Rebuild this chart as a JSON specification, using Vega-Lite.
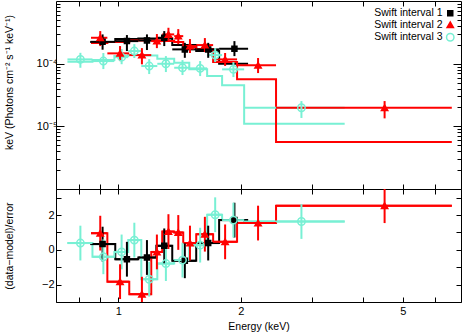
{
  "$schema": "https://vega.github.io/schema/vega-lite/v6.json",
  "background": "white",
  "padding": {"left": 4, "top": 0, "right": 1, "bottom": 2},
  "spacing": 0,
  "bounds": "flush",
  "config": {
    "font": "Liberation Sans",
    "view": {"stroke": null},
    "axis": {
      "grid": false,
      "labelFont": "Liberation Sans",
      "labelFontSize": 11,
      "labelColor": "black",
      "titleFont": "Liberation Sans",
      "titleFontSize": 10.5,
      "titleFontWeight": "normal",
      "titleColor": "black",
      "domainColor": "black",
      "domainWidth": 1,
      "tickColor": "black",
      "tickWidth": 1
    },
    "legend": {
      "labelFont": "Liberation Sans",
      "labelFontSize": 10.5,
      "labelColor": "black"
    }
  },
  "resolve": {
    "scale": {"stroke": "independent", "fill": "independent", "shape": "independent", "size": "independent"},
    "legend": {"stroke": "independent", "fill": "independent", "shape": "independent", "size": "independent"}
  },
  "datasets": {
    "steps": [
      {"s": "Swift interval 1", "E": 0.854, "m": 2.21e-4, "r": 0.33},
      {"s": "Swift interval 1", "E": 0.983, "m": 2.47e-4, "r": -0.54},
      {"s": "Swift interval 1", "E": 1.120, "m": 2.51e-4, "r": -0.44},
      {"s": "Swift interval 1", "E": 1.240, "m": 2.51e-4, "r": 0.23},
      {"s": "Swift interval 1", "E": 1.357, "m": 1.98e-4, "r": -0.63},
      {"s": "Swift interval 1", "E": 1.554, "m": 1.60e-4, "r": 0.39},
      {"s": "Swift interval 1", "E": 1.769, "m": 1.00e-4, "r": 1.71},
      {"s": "Swift interval 1", "E": 2.084, "m": 1.00e-4, "r": 1.71},
      {"s": "Swift interval 3", "E": 0.750, "m": 1.07e-4, "r": 0.39},
      {"s": "Swift interval 3", "E": 0.864, "m": 1.14e-4, "r": -0.40},
      {"s": "Swift interval 3", "E": 0.978, "m": 1.32e-4, "r": -0.12},
      {"s": "Swift interval 3", "E": 1.058, "m": 1.37e-4, "r": 0.56},
      {"s": "Swift interval 3", "E": 1.139, "m": 1.35e-4, "r": -1.69},
      {"s": "Swift interval 3", "E": 1.247, "m": 1.20e-4, "r": -0.79},
      {"s": "Swift interval 3", "E": 1.372, "m": 1.03e-4, "r": -0.59},
      {"s": "Swift interval 3", "E": 1.494, "m": 8.11e-5, "r": 0.27},
      {"s": "Swift interval 3", "E": 1.653, "m": 6.34e-5, "r": 2.02},
      {"s": "Swift interval 3", "E": 1.799, "m": 4.51e-5, "r": 1.71},
      {"s": "Swift interval 3", "E": 2.038, "m": 1.10e-5, "r": 1.63},
      {"s": "Swift interval 3", "E": 3.599, "m": 1.10e-5, "r": 1.63},
      {"s": "Swift interval 2", "E": 0.857, "m": 2.13e-4, "r": 0.96},
      {"s": "Swift interval 2", "E": 0.940, "m": 2.21e-4, "r": -1.83},
      {"s": "Swift interval 2", "E": 1.064, "m": 2.34e-4, "r": -2.55},
      {"s": "Swift interval 2", "E": 1.205, "m": 2.34e-4, "r": -0.12},
      {"s": "Swift interval 2", "E": 1.282, "m": 2.29e-4, "r": 1.05},
      {"s": "Swift interval 2", "E": 1.372, "m": 2.21e-4, "r": 1.00},
      {"s": "Swift interval 2", "E": 1.444, "m": 1.84e-4, "r": 0.39},
      {"s": "Swift interval 2", "E": 1.554, "m": 1.71e-4, "r": 0.90},
      {"s": "Swift interval 2", "E": 1.710, "m": 1.06e-4, "r": 0.46},
      {"s": "Swift interval 2", "E": 1.958, "m": 5.62e-5, "r": 1.54},
      {"s": "Swift interval 2", "E": 2.441, "m": 5.62e-6, "r": 2.54},
      {"s": "Swift interval 2", "E": 6.598, "m": 5.62e-6, "r": 2.54}
    ],
    "pts": [
      {"s": "Swift interval 1", "E": 0.915, "lo": 0.854, "hi": 0.983, "y": 2.23e-4, "ylo": 1.67e-4, "yhi": 2.93e-4, "r": 0.33, "rlo": -0.67, "rhi": 1.33},
      {"s": "Swift interval 1", "E": 1.050, "lo": 0.983, "hi": 1.120, "y": 2.29e-4, "ylo": 1.59e-4, "yhi": 2.86e-4, "r": -0.54, "rlo": -1.54, "rhi": 0.46},
      {"s": "Swift interval 1", "E": 1.176, "lo": 1.120, "hi": 1.240, "y": 2.35e-4, "ylo": 1.65e-4, "yhi": 2.93e-4, "r": -0.44, "rlo": -1.44, "rhi": 0.56},
      {"s": "Swift interval 1", "E": 1.297, "lo": 1.240, "hi": 1.357, "y": 2.59e-4, "ylo": 1.91e-4, "yhi": 3.31e-4, "r": 0.23, "rlo": -0.77, "rhi": 1.23},
      {"s": "Swift interval 1", "E": 1.457, "lo": 1.357, "hi": 1.554, "y": 1.69e-4, "ylo": 1.24e-4, "yhi": 2.15e-4, "r": -0.63, "rlo": -1.63, "rhi": 0.37},
      {"s": "Swift interval 1", "E": 1.663, "lo": 1.554, "hi": 1.769, "y": 1.69e-4, "ylo": 1.24e-4, "yhi": 2.15e-4, "r": 0.39, "rlo": -0.61, "rhi": 1.39},
      {"s": "Swift interval 1", "E": 1.929, "lo": 1.769, "hi": 2.084, "y": 1.73e-4, "ylo": 1.32e-4, "yhi": 2.29e-4, "r": 1.71, "rlo": 0.71, "rhi": 2.71},
      {"s": "Swift interval 3", "E": 0.807, "lo": 0.750, "hi": 0.864, "y": 1.17e-4, "ylo": 8.6e-5, "yhi": 1.49e-4, "r": 0.39, "rlo": -0.61, "rhi": 1.39},
      {"s": "Swift interval 3", "E": 0.919, "lo": 0.864, "hi": 0.978, "y": 1.10e-4, "ylo": 8.2e-5, "yhi": 1.48e-4, "r": -0.40, "rlo": -1.40, "rhi": 0.60},
      {"s": "Swift interval 3", "E": 1.019, "lo": 0.978, "hi": 1.058, "y": 1.27e-4, "ylo": 9.8e-5, "yhi": 1.71e-4, "r": -0.12, "rlo": -1.12, "rhi": 0.88},
      {"s": "Swift interval 3", "E": 1.095, "lo": 1.058, "hi": 1.139, "y": 1.59e-4, "ylo": 1.23e-4, "yhi": 2.05e-4, "r": 0.56, "rlo": -0.44, "rhi": 1.56},
      {"s": "Swift interval 3", "E": 1.191, "lo": 1.139, "hi": 1.247, "y": 9.16e-5, "ylo": 6.83e-5, "yhi": 1.18e-4, "r": -1.69, "rlo": -2.69, "rhi": -0.69},
      {"s": "Swift interval 3", "E": 1.309, "lo": 1.247, "hi": 1.372, "y": 9.96e-5, "ylo": 7.35e-5, "yhi": 1.32e-4, "r": -0.79, "rlo": -1.79, "rhi": 0.21},
      {"s": "Swift interval 3", "E": 1.438, "lo": 1.372, "hi": 1.494, "y": 8.61e-5, "ylo": 6.58e-5, "yhi": 1.14e-4, "r": -0.59, "rlo": -1.59, "rhi": 0.41},
      {"s": "Swift interval 3", "E": 1.589, "lo": 1.494, "hi": 1.653, "y": 8.42e-5, "ylo": 6.34e-5, "yhi": 1.10e-4, "r": 0.27, "rlo": -0.73, "rhi": 1.27},
      {"s": "Swift interval 3", "E": 1.730, "lo": 1.653, "hi": 1.799, "y": 1.37e-4, "ylo": 1.06e-4, "yhi": 1.77e-4, "r": 2.02, "rlo": 1.02, "rhi": 3.02},
      {"s": "Swift interval 3", "E": 1.918, "lo": 1.799, "hi": 2.038, "y": 8.11e-5, "ylo": 6.11e-5, "yhi": 1.06e-4, "r": 1.71, "rlo": 0.71, "rhi": 2.71},
      {"s": "Swift interval 3", "E": 2.818, "lo": 2.038, "hi": 3.599, "y": 1.98e-5, "ylo": 1.36e-5, "yhi": 2.53e-5, "r": 1.63, "rlo": 0.63, "rhi": 2.63},
      {"s": "Swift interval 2", "E": 0.903, "lo": 0.857, "hi": 0.940, "y": 2.59e-4, "ylo": 1.91e-4, "yhi": 3.31e-4, "r": 0.96, "rlo": -0.04, "rhi": 1.96},
      {"s": "Swift interval 2", "E": 1.010, "lo": 0.940, "hi": 1.064, "y": 1.46e-4, "ylo": 1.10e-4, "yhi": 1.91e-4, "r": -1.83, "rlo": -2.83, "rhi": -0.83},
      {"s": "Swift interval 2", "E": 1.143, "lo": 1.064, "hi": 1.205, "y": 1.37e-4, "ylo": 9.75e-5, "yhi": 1.77e-4, "r": -2.55, "rlo": -3.4, "rhi": -1.55},
      {"s": "Swift interval 2", "E": 1.244, "lo": 1.205, "hi": 1.282, "y": 2.29e-4, "ylo": 1.77e-4, "yhi": 2.97e-4, "r": -0.12, "rlo": -1.12, "rhi": 0.88},
      {"s": "Swift interval 2", "E": 1.328, "lo": 1.282, "hi": 1.372, "y": 2.93e-4, "ylo": 2.29e-4, "yhi": 3.74e-4, "r": 1.05, "rlo": 0.05, "rhi": 2.05},
      {"s": "Swift interval 2", "E": 1.404, "lo": 1.372, "hi": 1.444, "y": 2.75e-4, "ylo": 2.05e-4, "yhi": 3.56e-4, "r": 1.00, "rlo": 0.00, "rhi": 2.00},
      {"s": "Swift interval 2", "E": 1.500, "lo": 1.444, "hi": 1.554, "y": 1.91e-4, "ylo": 1.48e-4, "yhi": 2.47e-4, "r": 0.39, "rlo": -0.61, "rhi": 1.39},
      {"s": "Swift interval 2", "E": 1.632, "lo": 1.554, "hi": 1.710, "y": 1.98e-4, "ylo": 1.53e-4, "yhi": 2.56e-4, "r": 0.90, "rlo": -0.10, "rhi": 1.90},
      {"s": "Swift interval 2", "E": 1.830, "lo": 1.710, "hi": 1.958, "y": 1.17e-4, "ylo": 9.2e-5, "yhi": 1.48e-4, "r": 0.46, "rlo": -0.54, "rhi": 1.46},
      {"s": "Swift interval 2", "E": 2.205, "lo": 1.958, "hi": 2.441, "y": 9.4e-5, "ylo": 7.08e-5, "yhi": 1.23e-4, "r": 1.54, "rlo": 0.54, "rhi": 2.54},
      {"s": "Swift interval 2", "E": 4.511, "lo": 2.441, "hi": 6.598, "y": 1.98e-5, "ylo": 1.34e-5, "yhi": 2.53e-5, "r": 2.54, "rlo": 1.54, "rhi": 3.54}
    ]
  },
  "vconcat": [
    {
      "width": 405,
      "height": 188,
      "resolve": {"axis": {"x": "independent", "y": "independent"}},
      "layer": [
        {
          "data": {"name": "steps"},
          "mark": {"type": "line", "interpolate": "step-after", "strokeWidth": 2},
          "encoding": {
            "x": {"field": "E", "type": "quantitative", "scale": {"type": "log", "domain": [0.703, 6.95], "nice": false},
                  "axis": {"orient": "bottom", "values": [0.8, 0.9, 1, 2, 3, 4, 5, 6], "labels": false, "title": null, "tickSize": -5, "minExtent": 0, "maxExtent": 0}},
            "y": {"field": "m", "type": "quantitative", "scale": {"type": "log", "domain": [0.000001, 0.001], "nice": false},
                  "axis": {"orient": "left", "values": [0.00001, 0.0001], "labelExpr": "datum.value < 0.00005 ? '10⁻⁵' : '10⁻⁴'", "tickSize": -8, "labelPadding": 7, "title": "keV (Photons cm⁻² s⁻¹ keV⁻¹)", "titleY": 81, "titlePadding": 2, "minExtent": 40, "maxExtent": 40}},
            "stroke": {"field": "s", "type": "nominal", "title": null, "scale": {"domain": ["Swift interval 1", "Swift interval 2", "Swift interval 3"], "range": ["#000000", "#ff0000", "#78f0d4"]}}
          }
        },
        {
          "data": {"name": "pts"},
          "mark": {"type": "rule", "strokeWidth": 2},
          "encoding": {
            "x": {"field": "lo", "type": "quantitative", "scale": {"type": "log", "domain": [0.703, 6.95], "nice": false},
                  "axis": {"orient": "top", "values": [0.8, 0.9, 1, 2, 3, 4, 5, 6], "labels": false, "title": null, "tickSize": -5, "minExtent": 0, "maxExtent": 0}},
            "x2": {"field": "hi"},
            "y": {"field": "y", "type": "quantitative", "scale": {"type": "log", "domain": [0.000001, 0.001], "nice": false},
                  "axis": {"orient": "right", "values": [0.00001, 0.0001], "labels": false, "title": null, "tickSize": -8, "minExtent": 0, "maxExtent": 0}},
            "stroke": {"field": "s", "type": "nominal", "title": null}
          }
        },
        {
          "data": {"name": "pts"},
          "mark": {"type": "rule", "strokeWidth": 2},
          "encoding": {
            "x": {"field": "E", "type": "quantitative", "scale": {"type": "log", "domain": [0.703, 6.95], "nice": false}, "axis": null},
            "y": {"field": "ylo", "type": "quantitative", "scale": {"type": "log", "domain": [0.000001, 0.001], "nice": false},
                  "axis": {"orient": "left", "values": [0.000002, 0.000003, 0.000004, 0.000005, 0.000006, 0.000007, 0.000008, 0.000009, 0.00002, 0.00003, 0.00004, 0.00005, 0.00006, 0.00007, 0.00008, 0.00009, 0.0002, 0.0003, 0.0004, 0.0005, 0.0006, 0.0007, 0.0008, 0.0009], "labels": false, "domain": false, "title": null, "tickSize": -4, "minExtent": 0, "maxExtent": 0}},
            "y2": {"field": "yhi"},
            "stroke": {"field": "s", "type": "nominal", "title": null}
          }
        },
        {
          "data": {"name": "pts"},
          "mark": {"type": "point", "strokeWidth": 1.5, "opacity": 1},
          "encoding": {
            "x": {"field": "E", "type": "quantitative", "scale": {"type": "log", "domain": [0.703, 6.95], "nice": false}, "axis": null},
            "y": {"field": "y", "type": "quantitative", "scale": {"type": "log", "domain": [0.000001, 0.001], "nice": false},
                  "axis": {"orient": "right", "values": [0.000002, 0.000003, 0.000004, 0.000005, 0.000006, 0.000007, 0.000008, 0.000009, 0.00002, 0.00003, 0.00004, 0.00005, 0.00006, 0.00007, 0.00008, 0.00009, 0.0002, 0.0003, 0.0004, 0.0005, 0.0006, 0.0007, 0.0008, 0.0009], "labels": false, "domain": false, "title": null, "tickSize": -4, "minExtent": 0, "maxExtent": 0}},
            "stroke": {"field": "s", "type": "nominal", "title": null,
                       "legend": {"orient": "none", "legendX": 389, "legendY": 7, "padding": 0, "labelAlign": "right", "labelOffset": -13, "symbolSize": 45, "symbolStrokeWidth": 1.5, "rowPadding": -0.5, "labelLimit": 0}},
            "fill": {"field": "s", "type": "nominal", "title": null,
                     "scale": {"domain": ["Swift interval 1", "Swift interval 2", "Swift interval 3"], "range": ["#000000", "#ff0000", "transparent"]},
                     "legend": {"orient": "none", "legendX": 389, "legendY": 7, "padding": 0, "labelAlign": "right", "labelOffset": -13, "symbolSize": 45, "symbolStrokeWidth": 1.5, "rowPadding": -0.5, "labelLimit": 0}},
            "shape": {"field": "s", "type": "nominal", "title": null,
                      "scale": {"domain": ["Swift interval 1", "Swift interval 2", "Swift interval 3"], "range": ["square", "triangle-up", "circle"]},
                      "legend": {"orient": "none", "legendX": 389, "legendY": 7, "padding": 0, "labelAlign": "right", "labelOffset": -13, "symbolSize": 45, "symbolStrokeWidth": 1.5, "rowPadding": -0.5, "labelLimit": 0}},
            "size": {"field": "s", "type": "nominal", "scale": {"domain": ["Swift interval 1", "Swift interval 2", "Swift interval 3"], "range": [25, 55, 45]}, "legend": null}
          }
        }
      ]
    },
    {
      "width": 405,
      "height": 113,
      "resolve": {"axis": {"x": "independent", "y": "independent"}},
      "layer": [
        {
          "mark": {"type": "rule", "stroke": "#ff0000", "strokeWidth": 1.5, "strokeDash": [8, 5]},
          "encoding": {
            "y": {"datum": 0, "type": "quantitative", "scale": {"domain": [-3, 3.5], "nice": false, "zero": false}, "axis": null}
          }
        },
        {
          "data": {"name": "steps"},
          "mark": {"type": "line", "interpolate": "step-after", "strokeWidth": 2},
          "encoding": {
            "x": {"field": "E", "type": "quantitative", "scale": {"type": "log", "domain": [0.703, 6.95], "nice": false},
                  "axis": {"orient": "bottom", "values": [0.8, 0.9, 1, 2, 3, 4, 5, 6], "format": "~g", "labelExpr": "(datum.value == 1 || datum.value == 2 || datum.value == 5) ? datum.label : ''", "tickSize": -5, "labelPadding": 8, "title": "Energy (keV)", "titlePadding": 5}},
            "y": {"field": "r", "type": "quantitative", "scale": {"domain": [-3, 3.5], "nice": false, "zero": false},
                  "axis": {"orient": "left", "values": [-3, -2, -1, 0, 1, 2, 3], "labelExpr": "datum.value % 2 == 0 ? datum.label : ''", "tickSize": -5, "labelPadding": 7, "title": "(data−model)/error", "titlePadding": 2, "minExtent": 40, "maxExtent": 40}},
            "stroke": {"field": "s", "type": "nominal", "scale": {"domain": ["Swift interval 1", "Swift interval 2", "Swift interval 3"], "range": ["#000000", "#ff0000", "#78f0d4"]}, "legend": null}
          }
        },
        {
          "data": {"name": "pts"},
          "mark": {"type": "rule", "strokeWidth": 2},
          "encoding": {
            "x": {"field": "lo", "type": "quantitative", "scale": {"type": "log", "domain": [0.703, 6.95], "nice": false},
                  "axis": {"orient": "top", "values": [0.8, 0.9, 1, 2, 3, 4, 5, 6], "labels": false, "title": null, "tickSize": -5, "minExtent": 0, "maxExtent": 0}},
            "x2": {"field": "hi"},
            "y": {"field": "r", "type": "quantitative", "scale": {"domain": [-3, 3.5], "nice": false, "zero": false},
                  "axis": {"orient": "right", "values": [-3, -2, -1, 0, 1, 2, 3], "labels": false, "title": null, "tickSize": -5, "minExtent": 0, "maxExtent": 0}},
            "stroke": {"field": "s", "type": "nominal", "legend": null}
          }
        },
        {
          "data": {"name": "pts"},
          "mark": {"type": "rule", "strokeWidth": 2, "clip": true},
          "encoding": {
            "x": {"field": "E", "type": "quantitative", "scale": {"type": "log", "domain": [0.703, 6.95], "nice": false}, "axis": null},
            "y": {"field": "rlo", "type": "quantitative", "scale": {"domain": [-3, 3.5], "nice": false, "zero": false}, "axis": null},
            "y2": {"field": "rhi"},
            "stroke": {"field": "s", "type": "nominal", "legend": null}
          }
        },
        {
          "data": {"name": "pts"},
          "mark": {"type": "point", "strokeWidth": 1.5, "opacity": 1},
          "encoding": {
            "x": {"field": "E", "type": "quantitative", "scale": {"type": "log", "domain": [0.703, 6.95], "nice": false}, "axis": null},
            "y": {"field": "r", "type": "quantitative", "scale": {"domain": [-3, 3.5], "nice": false, "zero": false}, "axis": null},
            "stroke": {"field": "s", "type": "nominal", "legend": null},
            "fill": {"field": "s", "type": "nominal", "scale": {"domain": ["Swift interval 1", "Swift interval 2", "Swift interval 3"], "range": ["#000000", "#ff0000", "transparent"]}, "legend": null},
            "shape": {"field": "s", "type": "nominal", "scale": {"domain": ["Swift interval 1", "Swift interval 2", "Swift interval 3"], "range": ["square", "triangle-up", "circle"]}, "legend": null},
            "size": {"field": "s", "type": "nominal", "scale": {"domain": ["Swift interval 1", "Swift interval 2", "Swift interval 3"], "range": [25, 55, 45]}, "legend": null}
          }
        }
      ]
    }
  ]
}
